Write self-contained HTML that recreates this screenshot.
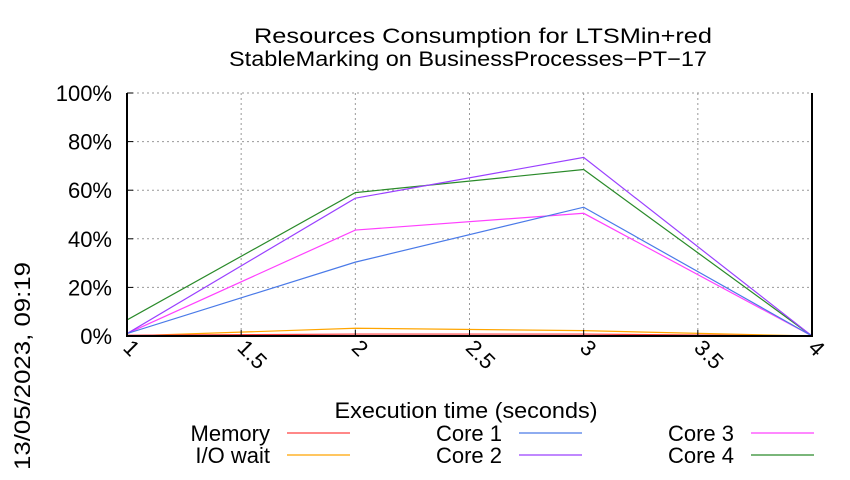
<!DOCTYPE html>
<html><head><meta charset="utf-8"><style>
body{margin:0;background:#fff;width:850px;height:475px;overflow:hidden}
svg text{font-family:"Liberation Sans",sans-serif;fill:#000}
</style></head><body>
<svg id="chart" width="850" height="475" xmlns="http://www.w3.org/2000/svg">
<text x="483" y="43" font-size="21" text-anchor="middle" textLength="458" lengthAdjust="spacingAndGlyphs">Resources Consumption for LTSMin+red</text>
<text x="468" y="66" font-size="21" text-anchor="middle" textLength="478" lengthAdjust="spacingAndGlyphs">StableMarking on BusinessProcesses−PT−17</text>
<g id="grid"></g><g id="series"></g><g id="axes"></g>
<text x="466" y="418" font-size="22" text-anchor="middle" textLength="263" lengthAdjust="spacingAndGlyphs">Execution time (seconds)</text>
<text transform="translate(30,366) rotate(-90)" font-size="22" text-anchor="middle" textLength="208" lengthAdjust="spacingAndGlyphs">13/05/2023, 09:19</text>
<g id="legend"></g>
</svg>
<script>
const xValues=[1,2,3,4];
const memory=[0.3,0.8,0.8,0];
const ioWait=[0,3.2,2.2,0];
const core1=[1,30.4,53,0];
const core2=[1,56.7,73.5,0];
const core3=[1,43.6,50.5,0];
const core4=[6.6,59,68.5,0];
const xTicks=["1","1.5","2","2.5","3","3.5","4"];
const yTicks=["0%","20%","40%","60%","80%","100%"];
const NS="http://www.w3.org/2000/svg";
const L=127,R=812,T=93,B=336;
const xs=v=>L+(v-1)/3*(R-L);
const ys=v=>B-v/100*(B-T);
function mk(tag,attrs,parent){const e=document.createElementNS(NS,tag);for(const k in attrs)e.setAttribute(k,attrs[k]);parent.appendChild(e);return e;}
const grid=document.getElementById('grid'),axes=document.getElementById('axes'),ser=document.getElementById('series'),leg=document.getElementById('legend');
yTicks.forEach((t,i)=>{const y=ys(i*20);
 const g=mk('line',{x1:L,x2:R,y1:y,y2:y,stroke:'#999','stroke-dasharray':'2,3','stroke-width':1},grid);
 
 
 const tk=mk('line',{x1:L,x2:L+6,y1:y,y2:y,stroke:'#000'},axes);
 
 
 const tx=mk('text',{x:L-15,y:y+8,'font-size':22,'text-anchor':'end'},axes);tx.textContent=t;
 
 
});
xTicks.forEach((t)=>{const x=xs(parseFloat(t));
 const g=mk('line',{x1:x,x2:x,y1:T,y2:B,stroke:'#999','stroke-dasharray':'2,3','stroke-width':1},grid);
 
 
 const tk=mk('line',{x1:x,x2:x,y1:B,y2:B-6,stroke:'#000'},axes);
 
 
 const tx=mk('text',{transform:`translate(${x-5},${B+13}) rotate(45)`,'font-size':22},axes);tx.textContent=t;
 
 
});
const frame=mk('path',{d:`M${L},${T}V${B}H${R}V${T}`,fill:'none',stroke:'#000','stroke-width':2},axes);


const series=[["Memory",memory,"#ff4040"],["I/O wait",ioWait,"#ffa500"],["Core 1",core1,"#4a7ae8"],["Core 2",core2,"#9a40ff"],["Core 3",core3,"#ff40ff"],["Core 4",core4,"#2a8a2a"]];
series.slice().reverse().forEach(([n,d,c])=>{
 const p=mk('polyline',{points:d.map((v,i)=>xs(xValues[i])+','+ys(v)).join(' '),fill:'none',stroke:c,'stroke-width':1.2},ser);
 
 
});
series.forEach(([n,d,c],i)=>{
 const col=Math.floor(i/2),row=i%2;
 const tx0=270+col*232,y=441+row*22;
 const t=mk('text',{x:tx0,y:y,'font-size':22,'text-anchor':'end'},leg);t.textContent=n;
 
 
 const l=mk('line',{x1:tx0+17,x2:tx0+80,y1:y-8,y2:y-8,stroke:c,'stroke-width':1.2},leg);
 
 
});
</script>
</body></html>
